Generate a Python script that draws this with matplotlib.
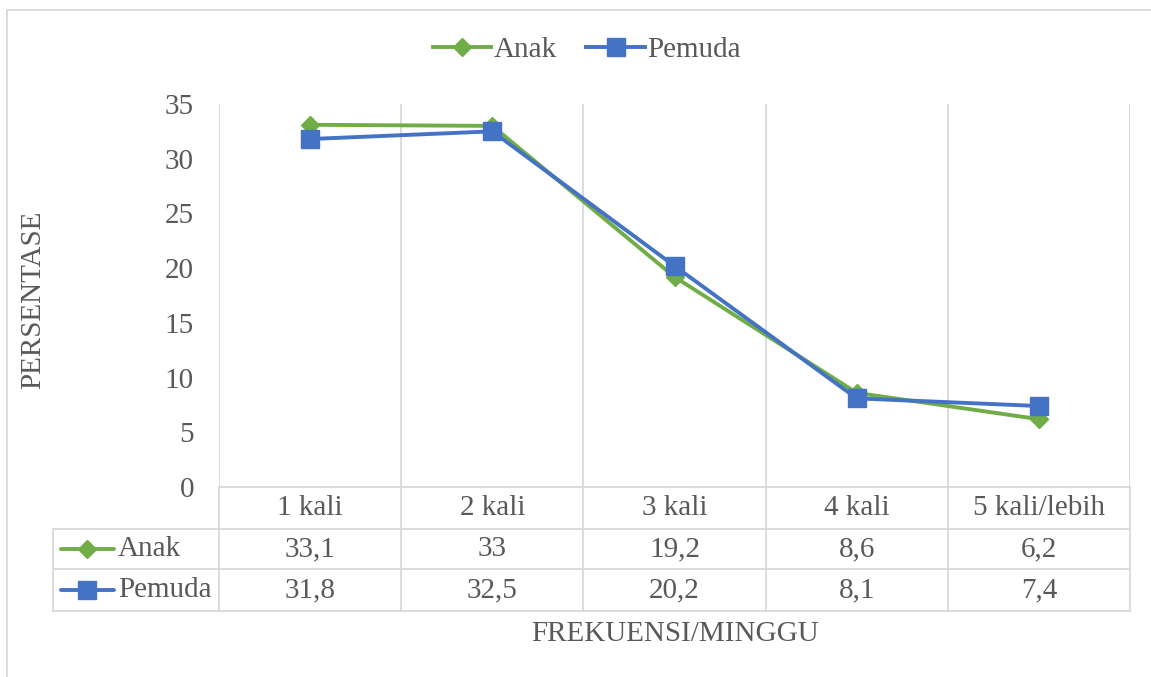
import matplotlib.pyplot as plt
from matplotlib.lines import Line2D
from matplotlib.patches import Rectangle
import matplotlib.transforms as mtransforms

categories = ['1 kali', '2 kali', '3 kali', '4 kali', '5 kali/lebih']
anak = [33.1, 33, 19.2, 8.6, 6.2]
pemuda = [31.8, 32.5, 20.2, 8.1, 7.4]
anak_labels = ['33,1', '33', '19,2', '8,6', '6,2']
pemuda_labels = ['31,8', '32,5', '20,2', '8,1', '7,4']
yticks = [0, 5, 10, 15, 20, 25, 30, 35]

plt.rcParams['font.family'] = ['Liberation Serif', 'DejaVu Serif']
TXT = '#595959'
GRID = '#D9D9D9'
GREEN = '#70AD47'
BLUE = '#4472C4'
FS = 21
LW = 2.8

W, H = 1151, 677
fig = plt.figure(figsize=(W / 100, H / 100), dpi=100)

# outer chart border
fig.patches.append(Rectangle((7 / W, -0.1), 1.2, (H - 10) / H + 0.1, transform=fig.transFigure,
                             fill=False, edgecolor=GRID, linewidth=1.3))

left, right, top, bottom = 219, 1130, 104, 487
ax = fig.add_axes([left / W, (H - bottom) / H, (right - left) / W, (bottom - top) / H])

x = list(range(len(categories)))
ax.plot(x, anak, color=GREEN, lw=LW, marker='D', ms=9.5, label='Anak', zorder=3)
ax.plot(x, pemuda, color=BLUE, lw=LW, marker='s', ms=12.5, label='Pemuda', zorder=4)

ax.set_xlim(-0.5, len(categories) - 0.5)
ax.set_ylim(0, 35)
ax.set_yticks(yticks)
ax.set_yticklabels([str(v) for v in yticks], fontsize=FS, color=TXT)
ax.tick_params(axis='y', length=0, pad=18)
ax.set_xticks([])
for s in ['top', 'right', 'left']:
    ax.spines[s].set_visible(False)
ax.spines['bottom'].set_color(GRID)
ax.spines['bottom'].set_linewidth(1.3)
for k in range(len(categories) + 1):
    ax.axvline(k - 0.5, color=GRID, lw=1.3, zorder=1)

# data table under the plot
tr = mtransforms.blended_transform_factory(ax.transData, ax.transAxes)
ph = bottom - top


def ay(py):
    return (bottom - py) / ph


rows = [487, 529, 569, 611]
x_left = -0.5 + (53 - left) / ((right - left) / len(categories))
for py in rows[1:]:
    ax.add_line(Line2D([x_left, len(categories) - 0.5], [ay(py)] * 2, transform=tr,
                       color=GRID, lw=1.3, clip_on=False))
ax.add_line(Line2D([x_left, x_left], [ay(529), ay(611)], transform=tr, color=GRID, lw=1.3, clip_on=False))
for k in range(len(categories) + 1):
    ax.add_line(Line2D([k - 0.5, k - 0.5], [ay(487), ay(611)], transform=tr,
                       color=GRID, lw=1.3, clip_on=False))

for i, c in enumerate(categories):
    ax.text(i, ay(508), c, transform=tr, ha='center', va='center', fontsize=FS, color=TXT)
    ax.text(i, ay(549), anak_labels[i], transform=tr, ha='center', va='center', fontsize=FS, color=TXT)
    ax.text(i, ay(590), pemuda_labels[i], transform=tr, ha='center', va='center', fontsize=FS, color=TXT)

# legend keys in the table
for py, col, mk, ms, name in [(549, GREEN, 'D', 9.5, 'Anak'), (590, BLUE, 's', 12.5, 'Pemuda')]:
    fy = (H - py) / H
    fig.add_artist(Line2D([61 / W, 114 / W], [fy, fy], color=col, lw=LW, solid_capstyle='round'))
    fig.add_artist(Line2D([87 / W], [fy], color=col, marker=mk, ms=ms, lw=0))
    fig.text(118 / W, fy, name, ha='left', va='center', fontsize=FS, color=TXT)

fig.text(33 / W, (H - 300) / H, 'PERSENTASE', rotation=90, ha='center', va='center', fontsize=FS, color=TXT)
fig.text(675 / W, (H - 634) / H, 'FREKUENSI/MINGGU', ha='center', va='center', fontsize=FS, color=TXT)

leg = fig.legend(loc='center', bbox_to_anchor=(587 / W, (H - 50) / H), ncol=2, frameon=False,
                 fontsize=FS, handlelength=2.0, handletextpad=0.1, columnspacing=1.0)
for t in leg.get_texts():
    t.set_color(TXT)

fig.savefig('out.png', dpi=100)
